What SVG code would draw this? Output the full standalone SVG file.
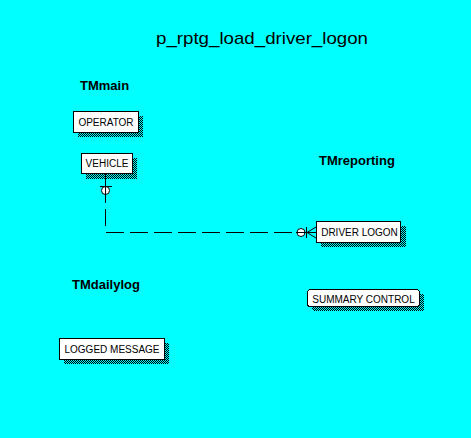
<svg xmlns="http://www.w3.org/2000/svg" width="471" height="438" viewBox="0 0 471 438">
<defs>
<pattern id="dither" width="2" height="2" patternUnits="userSpaceOnUse">
<rect x="0" y="0" width="1" height="1" fill="#000"/>
<rect x="1" y="1" width="1" height="1" fill="#000"/>
</pattern>
</defs>
<style>
.box{fill:#fff;stroke:#000;stroke-width:1;shape-rendering:crispEdges}
.shadow{fill:url(#dither);shape-rendering:crispEdges}
.lbl{font-family:"Liberation Sans",Arial,sans-serif;font-size:10px;fill:#000;text-anchor:middle}
.area{font-family:"Liberation Sans",Arial,sans-serif;font-size:13px;font-weight:bold;fill:#000}
.ln{stroke:#000;stroke-width:1;fill:none}
.dash{stroke:#000;stroke-width:1;fill:none;stroke-dasharray:18 6}
.opt{fill:#fff;stroke:#000;stroke-width:1}
</style>
<rect x="0" y="0" width="471" height="438" fill="#00FFFF"/>
<text x="156" y="44" font-family="Liberation Sans, Arial, sans-serif" font-size="17" textLength="212" lengthAdjust="spacingAndGlyphs" fill="#000">p_rptg_load_driver_logon</text>
<text class="area" x="80" y="90">TMmain</text>
<text class="area" x="319" y="165">TMreporting</text>
<text class="area" x="72" y="289">TMdailylog</text>
<g id="connectors">
<path class="ln" d="M105.5,174 V203"/>
<path class="dash" d="M105.5,209 V226"/>
<path class="dash" d="M106,232.5 H292"/>
<path class="ln" d="M100,186.5 H112"/>
<circle class="opt" cx="105.5" cy="190.5" r="4"/>
<path class="ln" d="M105.5,186 V195"/>
<path class="ln" d="M296,232.5 H316"/>
<circle class="opt" cx="301" cy="232.5" r="4"/>
<path class="ln" d="M297,232.5 H305"/>
<path class="ln" d="M306.5,227 V238"/>
<path class="ln" d="M307,232.5 L316,227 M307,232.5 L316,238"/>
</g>
<g id="operator">
<rect class="shadow" x="78" y="116" width="65" height="21"/>
<rect class="box" x="73.5" y="111.5" width="65" height="21"/>
<text class="lbl" x="106" y="126">OPERATOR</text>
</g>
<g id="vehicle">
<rect class="shadow" x="86" y="158" width="51" height="21"/>
<rect class="box" x="81.5" y="153.5" width="51" height="20"/>
<text class="lbl" x="107" y="167">VEHICLE</text>
</g>
<g id="driver-logon">
<rect class="shadow" x="321" y="226" width="85" height="21"/>
<rect class="box" x="316.5" y="221.5" width="84" height="21"/>
<text class="lbl" x="359.5" y="236">DRIVER LOGON</text>
</g>
<g id="summary-control">
<rect class="shadow" x="312" y="294" width="112" height="17" rx="3"/>
<rect class="box" x="307.5" y="289.5" width="112" height="17" rx="3"/>
<text class="lbl" x="363.5" y="303">SUMMARY CONTROL</text>
</g>
<g id="logged-message">
<rect class="shadow" x="64" y="343" width="105" height="21"/>
<rect class="box" x="59.5" y="338.5" width="105" height="21"/>
<text class="lbl" x="112" y="353">LOGGED MESSAGE</text>
</g>
</svg>
